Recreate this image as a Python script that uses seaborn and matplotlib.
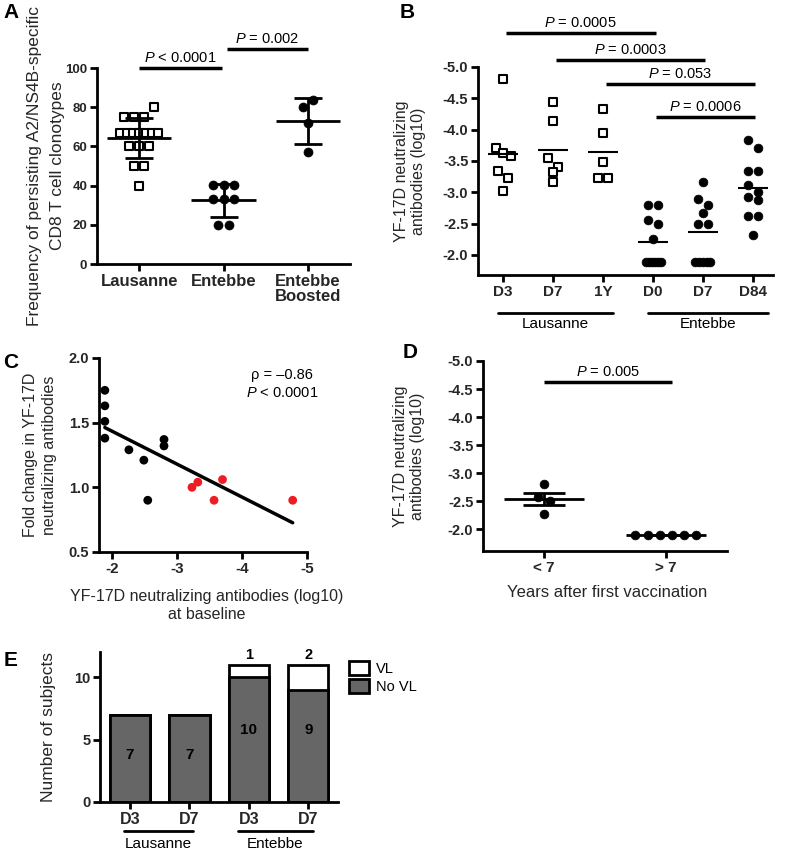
# five-panel figure: YF-17D T cell clonotypes and neutralizing antibodies
import numpy as np
import pandas as pd
import matplotlib
matplotlib.use('Agg')
import matplotlib.pyplot as plt
import matplotlib.transforms as mtransforms
from matplotlib.patches import Patch
import seaborn as sns

# ---- data ----
# A: frequency of persisting clonotypes (%)
a_groups = ['Lausanne', 'Entebbe', 'Entebbe\nBoosted']
a_lausanne = [80, 75, 75, 75, 67, 67, 67, 67, 67, 67, 67, 60, 60, 60, 50, 50, 40]
a_entebbe = [40.5, 40.5, 40.5, 33, 33, 33, 20, 20]
a_boosted = [83.5, 80, 72, 57]
a_pvals = ['< 0.0001', '= 0.002']

# B: neutralizing antibodies (log10)
b_ticks = ['D3', 'D7', '1Y', 'D0', 'D7', 'D84']
b_laus_d3 = [-4.81, -3.71, -3.63, -3.58, -3.34, -3.23, -3.02]
b_laus_d7 = [-4.44, -4.14, -3.54, -3.41, -3.33, -3.17]
b_laus_1y = [-4.33, -3.94, -3.48, -3.23, -3.23]
b_ent_d0 = [-2.79, -2.79, -2.56, -2.49, -2.25, -1.89, -1.89, -1.89, -1.89, -1.89, -1.89]
b_ent_d7 = [-3.17, -2.89, -2.80, -2.67, -2.49, -2.49, -1.89, -1.89, -1.89, -1.89, -1.89]
b_ent_d84 = [-3.84, -3.71, -3.34, -3.34, -3.11, -3.01, -2.92, -2.87, -2.62, -2.62, -2.32]
b_pairs = [(0, 3), (1, 4), (2, 5), (3, 5)]
b_pvals = ['0.0005', '0.0003', '0.053', '0.0006']

# C: baseline titre vs fold change
c_base_black = [-1.89, -1.89, -1.89, -1.89, -2.26, -2.49, -2.55, -2.80, -2.80]
c_fold_black = [1.75, 1.63, 1.51, 1.38, 1.29, 1.21, 0.90, 1.37, 1.32]
c_base_red = [-3.23, -3.32, -3.57, -3.70, -4.78]
c_fold_red = [1.00, 1.04, 0.90, 1.06, 0.90]

# D: titre by years after first vaccination
d_groups = ['< 7', '> 7']
d_lt7 = [-2.80, -2.57, -2.50, -2.27]
d_gt7 = [-1.90, -1.90, -1.90, -1.90, -1.90, -1.90]

# E: number of subjects with / without viral load
e_bars = ['Lausanne D3', 'Lausanne D7', 'Entebbe D3', 'Entebbe D7']
e_ticks = ['D3', 'D7', 'D3', 'D7']
e_no_vl = [7, 7, 10, 9]
e_vl = [0, 0, 1, 2]

# ---- style ----
sns.set_theme(style='ticks')
plt.rcParams['font.family'] = ['Liberation Sans', 'DejaVu Sans']
plt.rcParams['mathtext.fontset'] = 'custom'
plt.rcParams['mathtext.it'] = 'Liberation Sans:italic'
plt.rcParams['mathtext.rm'] = 'Liberation Sans'
plt.rcParams['axes.edgecolor'] = 'black'
plt.rcParams['axes.linewidth'] = 2
plt.rcParams['text.color'] = 'black'

GRAY = '#666666'


def spread(vals, step, tol, maxw):
    # horizontal offsets for points sharing (nearly) the same value
    vals = np.asarray(vals, float)
    order = np.argsort(vals, kind='stable')
    rows = []
    for i in order:
        if rows and abs(vals[i] - vals[rows[-1][0]]) <= tol:
            rows[-1].append(i)
        else:
            rows.append([i])
    offs = np.zeros(len(vals))
    for r in rows:
        k = len(r)
        st = step if k < 2 else min(step, maxw / (k - 1))
        offs[r] = (np.arange(k) - (k - 1) / 2) * st
    return offs


def make_df(groups, step, tol, maxw):
    df = pd.DataFrame({'group': np.repeat(np.arange(len(groups)), [len(g) for g in groups]),
                       'value': np.concatenate(groups)})
    df['x'] = df['group'] + df.groupby('group')['value'].transform(
        lambda v: spread(v.values, step, tol, maxw))
    return df


def style(ax, xsize=11, ysize=10):
    sns.despine(ax=ax)
    ax.tick_params(length=5, width=2, color='black', pad=2)
    ax.tick_params(axis='x', labelsize=xsize)
    ax.tick_params(axis='y', labelsize=ysize)
    plt.setp(ax.get_xticklabels() + ax.get_yticklabels(), fontweight='bold')


def sig_bar(ax, x1, x2, y, text, size=10.5):
    ax.plot([x1, x2], [y, y], color='black', lw=2.5, clip_on=False, solid_capstyle='butt')
    ax.annotate(text, ((x1 + x2) / 2, y), xytext=(0, 2), textcoords='offset points',
                ha='center', va='bottom', fontsize=size, annotation_clip=False)


def group_line(ax, x1, x2, yl, yt, label):
    tr = mtransforms.blended_transform_factory(ax.transData, ax.transAxes)
    ax.plot([x1, x2], [yl, yl], transform=tr, color='black', lw=2, clip_on=False)
    ax.text((x1 + x2) / 2, yt, label, transform=tr, ha='center', va='center', fontsize=11)


def log_axis(ax, bottom):
    ax.set_ylim(bottom, -5.0)
    ticks = [-5.0, -4.5, -4.0, -3.5, -3.0, -2.5, -2.0]
    ax.set_yticks(ticks)
    ax.set_yticklabels([f'{t:.1f}' for t in ticks])


fig = plt.figure(figsize=(7.87, 8.55), dpi=100)

# ---- A ----
ax = fig.add_axes([0.1233, 0.6912, 0.3215, 0.2292])
dfa = make_df([a_lausanne, a_entebbe, a_boosted], 0.12, 5, 0.45)
sns.scatterplot(data=dfa[dfa.group == 0], x='x', y='value', marker='s', s=38, color='white',
                edgecolor='black', linewidth=1.5, ax=ax, legend=False, zorder=3)
sns.scatterplot(data=dfa[dfa.group > 0], x='x', y='value', marker='o', s=42, color='black',
                edgecolor='black', linewidth=0.5, ax=ax, legend=False, zorder=3)
st = dfa.groupby('group')['value'].agg(['mean', 'std'])
ax.errorbar(st.index, st['mean'], yerr=st['std'], fmt='none', ecolor='black', elinewidth=2,
            capsize=10, capthick=2, zorder=4)
ax.hlines(st['mean'], st.index - 0.38, st.index + 0.38, color='black', lw=2, zorder=4)
sig_bar(ax, 0, 0.98, 100, '$P$ ' + a_pvals[0])
sig_bar(ax, 1.04, 2.0, 109.8, '$P$ ' + a_pvals[1])
ax.set_xlim(-0.5, 2.5)
ax.set_ylim(0, 100)
ax.set_yticks([0, 20, 40, 60, 80, 100])
ax.set_xticks(range(3))
ax.set_xticklabels(a_groups, linespacing=1.0)
ax.set_xlabel('')
ax.set_ylabel('Frequency of persisting A2/NS4B-specific\nCD8 T cell clonotypes', fontsize=12.5,
              linespacing=1.7)
ax.yaxis.set_label_coords(-0.125, 0.5)
style(ax, xsize=12, ysize=9.5)

# ---- B ----
ax = fig.add_axes([0.6074, 0.6784, 0.3748, 0.2433])
dfb = make_df([b_laus_d3, b_laus_d7, b_laus_1y, b_ent_d0, b_ent_d7, b_ent_d84], 0.2, 0.15, 0.3)
sns.scatterplot(data=dfb[dfb.group < 3], x='x', y='value', marker='s', s=34, color='white',
                edgecolor='black', linewidth=1.5, ax=ax, legend=False, zorder=3)
sns.scatterplot(data=dfb[dfb.group >= 3], x='x', y='value', marker='o', s=40, color='black',
                edgecolor='black', linewidth=0.5, ax=ax, legend=False, zorder=3)
mb = dfb.groupby('group')['value'].mean()
ax.hlines(mb, mb.index - 0.3, mb.index + 0.3, color='black', lw=1.5, zorder=4)
for (i, j), p, y in zip(b_pairs, b_pvals, [-5.54, -5.11, -4.73, -4.20]):
    sig_bar(ax, i + 0.05, j + 0.05, y, '$P$ = ' + p)
ax.set_xlim(-0.5, 5.4)
log_axis(ax, -1.68)
ax.set_xticks(range(6))
ax.set_xticklabels(b_ticks)
ax.set_xlabel('')
ax.set_ylabel('YF-17D neutralizing\nantibodies (log10)', fontsize=11.5)
ax.yaxis.set_label_coords(-0.176, 0.5)
style(ax, xsize=11, ysize=10.5)
group_line(ax, -0.1, 2.2, -0.183, -0.236, 'Lausanne')
group_line(ax, 2.9, 5.3, -0.183, -0.236, 'Entebbe')

# ---- C ----
ax = fig.add_axes([0.1258, 0.3544, 0.2643, 0.2269])
dfc = pd.DataFrame({'baseline': c_base_black + c_base_red,
                    'fold': c_fold_black + c_fold_red,
                    'col': ['black'] * len(c_base_black) + ['red'] * len(c_base_red)})
sns.regplot(data=dfc, x='baseline', y='fold', scatter=False, ci=None, truncate=True,
            color='black', line_kws={'lw': 2.5}, ax=ax)
sns.scatterplot(data=dfc, x='baseline', y='fold', hue='col',
                palette={'black': 'black', 'red': '#ee1d23'}, s=40, linewidth=0,
                ax=ax, legend=False, zorder=3, clip_on=False)
ax.set_xlim(-1.8, -5.0)
ax.set_ylim(0.5, 2.0)
ax.set_xticks([-2, -3, -4, -5])
ax.set_xticklabels(['-2', '-3', '-4', '-5'])
ax.set_yticks([0.5, 1.0, 1.5, 2.0])
ax.set_yticklabels(['0.5', '1.0', '1.5', '2.0'])
ax.text(0.88, 0.91, 'ρ = –0.86', transform=ax.transAxes, ha='center', va='center', fontsize=10.5)
ax.text(0.88, 0.82, '$P$ < 0.0001', transform=ax.transAxes, ha='center', va='center', fontsize=10.5)
ax.set_xlabel('YF-17D neutralizing antibodies (log10)\nat baseline', fontsize=11.5,
              linespacing=1.3)
ax.xaxis.set_label_coords(0.52, -0.19)
ax.set_ylabel('Fold change in YF-17D\nneutralizing antibodies', fontsize=11.5, linespacing=1.35)
ax.yaxis.set_label_coords(-0.2, 0.5)
style(ax, xsize=11, ysize=10.5)

# ---- D ----
ax = fig.add_axes([0.6137, 0.3556, 0.3100, 0.2222])
dfd = make_df([d_lt7, d_gt7], 0.1, 0.1, 0.5)
sns.scatterplot(data=dfd, x='x', y='value', marker='o', s=40, color='black',
                edgecolor='black', linewidth=0.5, ax=ax, legend=False, zorder=3)
sd = dfd.groupby('group')['value'].agg(['mean', 'sem'])
ax.errorbar(sd.index, sd['mean'], yerr=sd['sem'], fmt='none', ecolor='black', elinewidth=2,
            capsize=15, capthick=2, zorder=4)
ax.hlines(sd['mean'], sd.index - 0.33, sd.index + 0.33, color='black', lw=2, zorder=4)
sig_bar(ax, 0, 1.05, -4.63, '$P$ = 0.005')
ax.set_xlim(-0.5, 1.5)
log_axis(ax, -1.61)
ax.set_xticks(range(2))
ax.set_xticklabels(d_groups)
ax.set_ylabel('YF-17D neutralizing\nantibodies (log10)', fontsize=11.5)
ax.yaxis.set_label_coords(-0.238, 0.5)
ax.set_xlabel('Years after first vaccination', fontsize=12)
ax.xaxis.set_label_coords(0.51, -0.18)
style(ax, xsize=11, ysize=10.5)

# ---- E ----
ax = fig.add_axes([0.1271, 0.0620, 0.3024, 0.1754])
e_total = [n + v for n, v in zip(e_no_vl, e_vl)]
sns.barplot(x=e_bars, y=e_total, color='white', edgecolor='black', linewidth=2,
            width=0.68, saturation=1, ax=ax)
sns.barplot(x=e_bars, y=e_no_vl, color=GRAY, edgecolor='black', linewidth=2,
            width=0.68, saturation=1, ax=ax)
ax.bar_label(ax.containers[0], labels=[str(v) if v else '' for v in e_vl], padding=2,
             fontsize=10.5, fontweight='bold')
for i, (n, t) in enumerate(zip(e_no_vl, e_total)):
    ax.text(i, t / 2 + 0.3, str(n), ha='center', va='center', fontsize=11, fontweight='bold')
ax.set_xlim(-0.5, 3.5)
ax.set_ylim(0, 12)
ax.set_yticks([0, 5, 10])
ax.set_xticks(range(4))
ax.set_xticklabels(e_ticks)
ax.set_ylabel('Number of subjects', fontsize=12.5)
ax.yaxis.set_label_coords(-0.185, 0.5)
style(ax, xsize=11.5, ysize=10.5)
group_line(ax, -0.1, 1.07, -0.193, -0.28, 'Lausanne')
group_line(ax, 1.82, 3.08, -0.193, -0.28, 'Entebbe')
handles = [Patch(facecolor='white', edgecolor='black', lw=2, label='VL'),
           Patch(facecolor=GRAY, edgecolor='black', lw=2, label='No VL')]
ax.legend(handles=handles, loc='upper left', bbox_to_anchor=(1.02, 0.98), frameon=False,
          fontsize=10.5, handlelength=1.4, handleheight=1.1, labelspacing=0.25,
          handletextpad=0.5, borderaxespad=0)

# panel letters
for letter, x, y in [('A', 3, 13), ('B', 400, 12), ('C', 3, 362), ('D', 403, 352), ('E', 4, 660)]:
    fig.text(x / 787, 1 - y / 855, letter, fontsize=15, fontweight='bold', va='center', ha='left')

fig.savefig('out.png', dpi=100)
